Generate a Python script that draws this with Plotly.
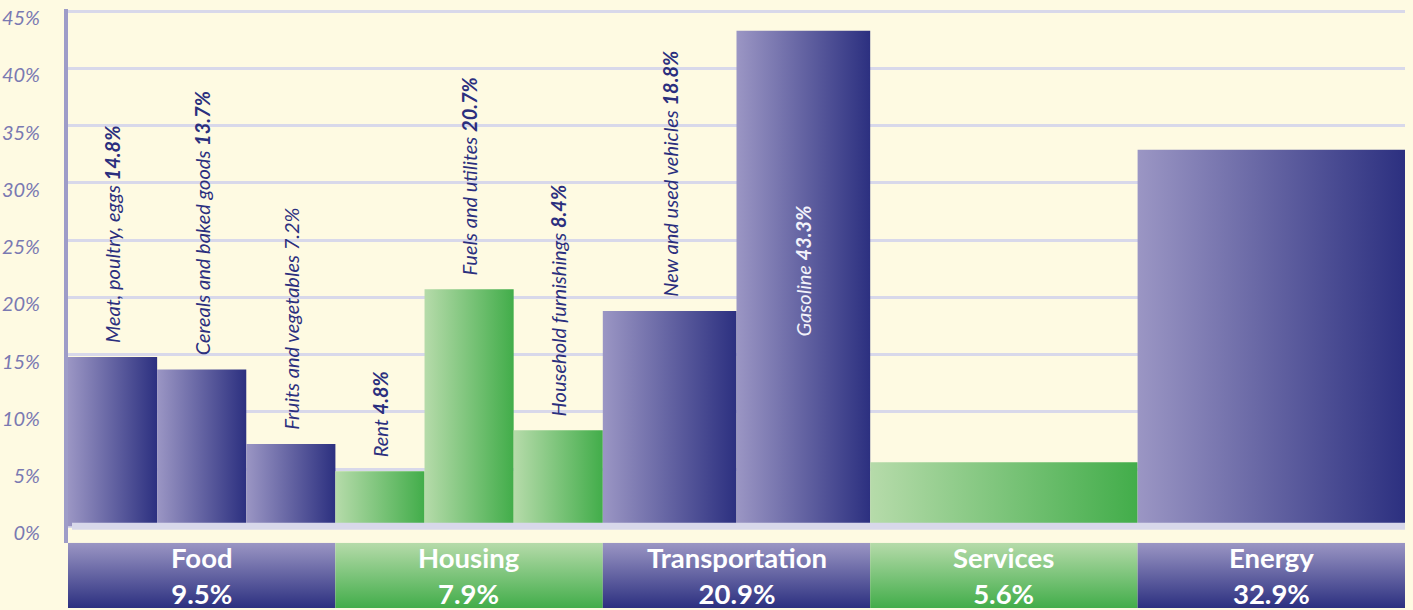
import plotly.graph_objects as go

# ---------------- data ----------------
categories = ["Food", "Housing", "Transportation", "Services", "Energy"]
category_values = [9.5, 7.9, 20.9, 5.6, 32.9]

sub_names = [
    ["Meat, poultry, eggs", "Cereals and baked goods", "Fruits and vegetables"],
    ["Rent", "Fuels and utilites", "Household furnishings"],
    ["New and used vehicles", "Gasoline"],
    ["Services"],
    ["Energy"],
]
sub_values = [
    [14.8, 13.7, 7.2],
    [4.8, 20.7, 8.4],
    [18.8, 43.3],
    [5.6],
    [32.9],
]

y_tick_values = [0, 5, 10, 15, 20, 25, 30, 35, 40, 45]
y_tick_labels = ["0%", "5%", "10%", "15%", "20%", "25%", "30%", "35%", "40%", "45%"]

# ---------------- style ----------------
W, H = 1413, 610
BG = "#FEFAE2"
GRID = "#D8D8EA"
AXIS = "#9E9CC8"
NAVY = "#2B2F7E"
TICK = "#7A79B2"
FONT = "Lato"
PURPLE = ("#9B96C4", "#2C3080")
GREEN = ("#B6DBAA", "#42AD4A")
palette = [PURPLE, GREEN, PURPLE, GREEN, PURPLE]
plain_number = {"Fruits and vegetables"}
inside_label = {"Gasoline": 16.4}

fig = go.Figure()
annotations = []

for ci, (cat, cval, names, vals) in enumerate(zip(categories, category_values, sub_names, sub_values)):
    light, dark = palette[ci]
    n = len(vals)
    for si, (name, v) in enumerate(zip(names, vals)):
        x0 = ci + si / n
        x1 = ci + (si + 1) / n
        fig.add_trace(go.Scatter(
            x=[x0, x0, x1, x1, x0], y=[0, v, v, 0, 0],
            mode="lines", line=dict(width=0, color=dark),
            fill="toself",
            fillgradient=dict(type="horizontal", colorscale=[[0, light], [1, dark]]),
            hoverinfo="skip", showlegend=False,
        ))
        if n > 1:
            num = f"{v}%" if name in plain_number else f"<b>{v}%</b>"
            if name in inside_label:
                annotations.append(dict(
                    x=(x0 + x1) / 2, y=inside_label[name], xref="x", yref="y",
                    text=f"{name} {num}", textangle=-90, showarrow=False,
                    xanchor="center", yanchor="bottom",
                    font=dict(family=FONT, size=20, color="#F2F2FA", style="italic"),
                ))
            else:
                annotations.append(dict(
                    x=(x0 + x1) / 2, y=v, xref="x", yref="y",
                    text=f"{name} {num}", textangle=-90, showarrow=False,
                    xanchor="center", yanchor="bottom", yshift=12,
                    font=dict(family=FONT, size=20, color=NAVY, style="italic"),
                ))
    # category box below the axis
    fig.add_trace(go.Scatter(
        x=[ci, ci, ci + 1, ci + 1, ci], y=[0, 1, 1, 0, 0], yaxis="y2",
        mode="lines", line=dict(width=0, color=dark),
        fill="toself",
        fillgradient=dict(type="vertical", colorscale=[[0, dark], [1, light]]),
        hoverinfo="skip", showlegend=False,
    ))
    annotations.append(dict(
        x=ci + 0.5, y=0.5, xref="x", yref="y2",
        text=f"<b>{cat}<br>{cval}%</b>", showarrow=False,
        xanchor="center", yanchor="middle",
        font=dict(family=FONT, size=27.5, color="white"),
    ))

px_per_unit = 11.56
zero_px = 527.5
dom_top_px, dom_bot_px = 5, 544
y_range = [-(dom_bot_px - zero_px) / px_per_unit, (zero_px - dom_top_px) / px_per_unit]

fig.update_layout(
    width=W, height=H,
    margin=dict(l=68, r=8, t=0, b=0),
    paper_bgcolor=BG, plot_bgcolor=BG,
    showlegend=False,
    annotations=annotations,
    xaxis=dict(range=[0, 5], showgrid=False, zeroline=False, showticklabels=False,
               showline=False, fixedrange=True),
    yaxis=dict(domain=[(H - dom_bot_px) / H, (H - dom_top_px) / H], range=y_range,
               tickvals=y_tick_values, ticktext=y_tick_labels,
               showgrid=True, gridcolor=GRID, gridwidth=3, zeroline=False,
               showline=True, linecolor=AXIS, linewidth=4, ticks="",
               tickfont=dict(family=FONT, size=20, color=TICK, style="italic"),
               ticklabelshift=7, ticklabelstandoff=20, fixedrange=True),
    yaxis2=dict(domain=[0, (H - dom_bot_px) / H], range=[0, 1], anchor="x",
                visible=False, fixedrange=True),
    shapes=[dict(type="line", xref="paper", yref="y", x0=0.003, x1=1, y0=0, y1=0,
                 line=dict(color=GRID, width=7), layer="above")],
)

fig.write_html(
    "out.html",
    config={"displayModeBar": False},
    post_script="document.body.style.margin='0';document.body.style.overflow='hidden';",
)
